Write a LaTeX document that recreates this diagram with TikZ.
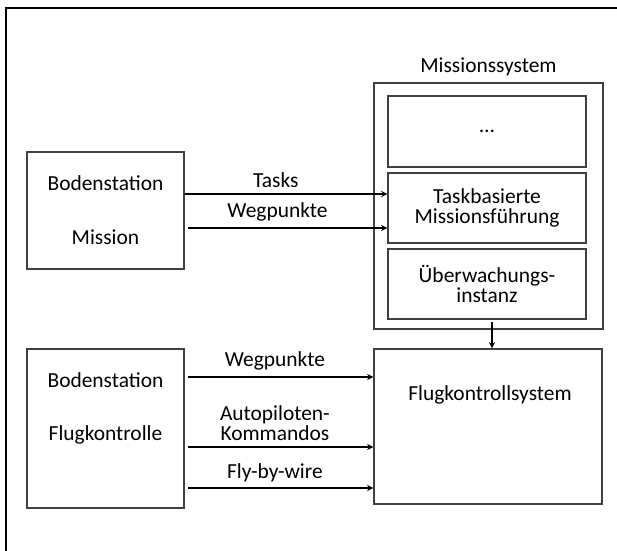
\documentclass[tikz,border=0pt]{standalone}
\usepackage{fontspec}
\setmainfont{Carlito}
\usetikzlibrary{arrows.meta,positioning}

\begin{document}
\begin{tikzpicture}[
        font=\fontsize{12.2}{11.3}\selectfont,
        bx/.style={draw=black!75, line width=0.7pt, align=center,
                   minimum width=3.96cm, minimum height=1.40cm, inner sep=2pt},
        arr/.style={->,>=stealth,line width=0.6pt},
        lbl/.style={align=center}
      ]
        \useasboundingbox (0,0) rectangle (12.34,11.02);
        % frame (only top and left edge visible)
        \draw[line width=1.2pt] (0.12,0) -- (0.12,10.86) -- (12.34,10.86);
        % LEFT: ground stations
        \node[bx, minimum width=3.14cm, minimum height=2.34cm] (bsm) at (2.11,6.81) {Bodenstation\\[0.68cm]Mission};
        \node[bx, minimum width=3.14cm, minimum height=3.18cm] (bsf) at (2.11,2.45) {};
        \node[lbl] (bsftxt) at (2.11,2.86) {Bodenstation\\[0.66cm]Flugkontrolle};
        % RIGHT: mission system with its parts
        \node[bx, minimum width=4.58cm, minimum height=4.92cm, label={[lbl]above:Missionssystem}] (ms) at (9.77,6.9) {};
        \node[bx, minimum height=1.42cm] (etc) at (9.74,8.39) {…};
        \node[bx] (tmf) at (9.74,6.86) {Taskbasierte\\Missionsführung};
        \node[bx] (uwi) at (9.74,5.34) {Überwachungs-\\instanz};
        % RIGHT: flight control
        \node[bx, minimum width=4.56cm, minimum height=3.10cm] (fks) at (9.76,2.49) {};
        \node[lbl] (fkstxt) at (9.8,3.12) {Flugkontrollsystem};
        % arrows mission station -> mission system
        \coordinate (t1) at ([yshift=0.33cm]bsm.east);
        \coordinate (t2) at ([xshift=0.06cm,yshift=-0.35cm]bsm.east);
        \draw[arr] (t1) -- (t1 -| tmf.west) node[pos=0.45,above] {Tasks};
        \draw[arr] (t2) -- (t2 -| tmf.west) node[pos=0.45,above] {Wegpunkte};
        % mission system -> flight control
        \coordinate (d1) at ([xshift=0.1cm,yshift=-0.05cm]uwi.south);
        \draw[arr] (d1) -- (d1 |- fks.north);
        % arrows flight control station -> flight control
        \coordinate (f1) at ([xshift=0.06cm,yshift=1.03cm]bsf.east);
        \coordinate (f2) at ([xshift=0.06cm,yshift=-0.37cm]bsf.east);
        \coordinate (f3) at ([xshift=0.06cm,yshift=-1.19cm]bsf.east);
        \draw[arr] (f1) -- (f1 -| fks.west) node[pos=0.47,above] {Wegpunkte};
        \draw[arr] (f2) -- (f2 -| fks.west) node[pos=0.47,above,lbl] {Autopiloten-\\Kommandos};
        \draw[arr] (f3) -- (f3 -| fks.west) node[pos=0.47,above] {Fly-by-wire};
      \end{tikzpicture}
\end{document}
